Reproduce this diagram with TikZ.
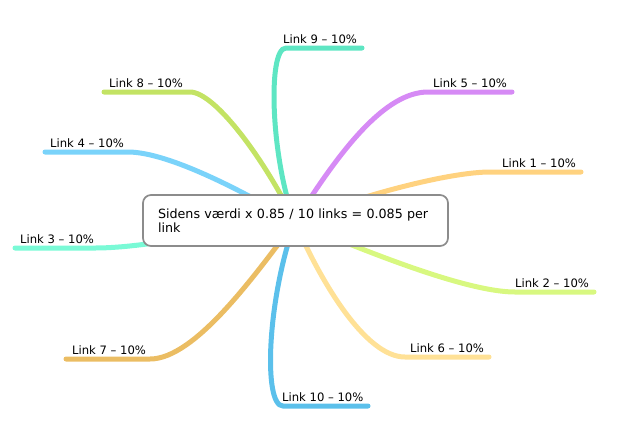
\documentclass[tikz,border=0pt]{standalone}
\usepackage{fontspec}
\setmainfont{DejaVu Sans}
\definecolor{cOne}{HTML}{FFD27F}
\definecolor{cTwo}{HTML}{D8F880}
\definecolor{cThree}{HTML}{7AFAD6}
\definecolor{cFour}{HTML}{7AD3FA}
\definecolor{cFive}{HTML}{D68AF5}
\definecolor{cSix}{HTML}{FFE196}
\definecolor{cSeven}{HTML}{EBBD63}
\definecolor{cEight}{HTML}{C3E364}
\definecolor{cNine}{HTML}{5EE6C3}
\definecolor{cTen}{HTML}{5BC0EB}
\definecolor{topicgray}{HTML}{8C8C8C}

\begin{document}
\begin{tikzpicture}[x=1pt,y=-1pt,
  branch/.style={line width=5pt,line cap=round},
  linklabel/.style={anchor=base west,inner sep=0pt,font=\fontsize{11.6}{14}\selectfont},
  topicbox/.style={draw=topicgray,line width=1.7pt,rounded corners=8pt,fill=white,text width=275pt,inner xsep=15pt,minimum height=51pt,align=left,font=\fontsize{12.7}{14}\selectfont}]
  \useasboundingbox (0,0) rectangle (621,432);
  \coordinate (hub) at (295,222);
  \coordinate (t1) at (581,172); \coordinate (t2) at (594,292); \coordinate (t3) at (15,248); \coordinate (t4) at (45,152); \coordinate (t5) at (512,92);
  \coordinate (t6) at (489,357); \coordinate (t7) at (66,359); \coordinate (t8) at (104,92); \coordinate (t9) at (362,48); \coordinate (t10) at (368,406);
  % branches, right side
  \draw[branch,cNine] (hub) .. controls (271,160) and (267,48) .. (286,48) -- (t9);
  \draw[branch,cFive] (hub) .. controls (340,150) and (385,92) .. (428,92) -- (t5);
  \draw[branch,cOne] (hub) .. controls (360,195) and (450,172) .. (490,172) -- (t1);
  \draw[branch,cTwo] (hub) .. controls (340,240) and (460,292) .. (515,292) -- (t2);
  \draw[branch,cSix] (hub) .. controls (320,280) and (365,357) .. (405,357) -- (t6);
  \draw[branch,cTen] (hub) .. controls (267,300) and (263,406) .. (283,406) -- (t10);
  % branches, left side
  \draw[branch,cEight] (hub) .. controls (265,160) and (215,92) .. (190,92) -- (t8);
  \draw[branch,cFour] (hub) .. controls (250,195) and (170,152) .. (128,152) -- (t4);
  \draw[branch,cThree] (hub) .. controls (200,235) and (140,248) .. (95,248) -- (t3);
  \draw[branch,cSeven] (hub) .. controls (255,275) and (195,359) .. (150,359) -- (t7);
  \node[topicbox] (topic) at (295.5,220.5) {Sidens værdi x 0.85 / 10 links = 0.085 per\\link};
  \node[linklabel] (lbl1) at (502,167) {Link 1 – 10\%};
  \node[linklabel] (lbl2) at (515,287) {Link 2 – 10\%};
  \node[linklabel] (lbl3) at (20,243) {Link 3 – 10\%};
  \node[linklabel] (lbl4) at (50,147) {Link 4 – 10\%};
  \node[linklabel] (lbl5) at (433,87) {Link 5 – 10\%};
  \node[linklabel] (lbl6) at (410,352) {Link 6 – 10\%};
  \node[linklabel] (lbl7) at (72,354) {Link 7 – 10\%};
  \node[linklabel] (lbl8) at (109,87) {Link 8 – 10\%};
  \node[linklabel] (lbl9) at (283,43) {Link 9 – 10\%};
  \node[linklabel] (lbl10) at (282,401) {Link 10 – 10\%};
\end{tikzpicture}
\end{document}
